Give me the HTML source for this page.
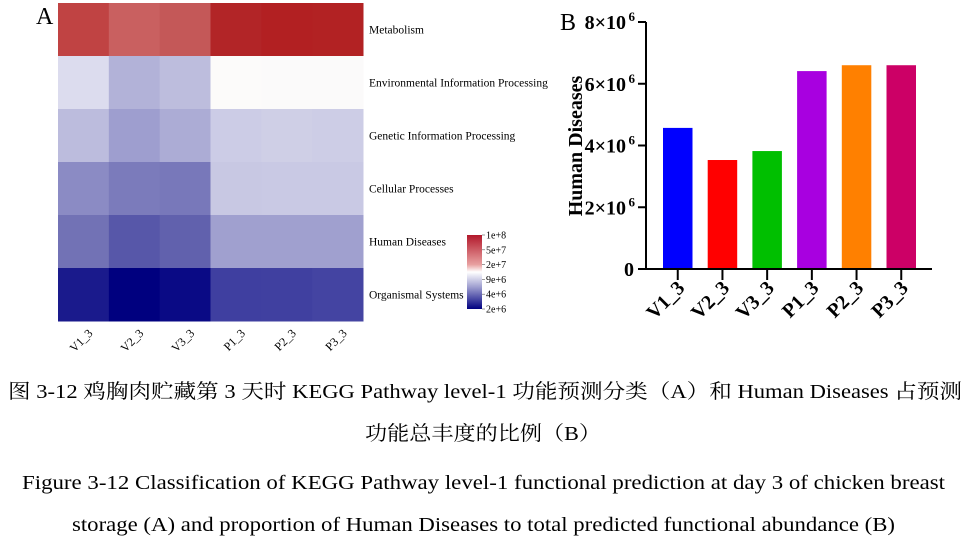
<!DOCTYPE html>
<html><head><meta charset="utf-8">
<style>
html,body{margin:0;padding:0;background:#fff;}
svg{display:block;font-family:"Liberation Serif","Noto Serif CJK SC",serif;}
</style></head>
<body>
<svg id="root" width="970" height="547" viewBox="0 0 970 547" xmlns="http://www.w3.org/2000/svg">
<g id="heat"></g>
<g id="bars"></g>
<g font-size="20" fill="#000" text-anchor="start">
<text x="8" y="398" textLength="954" lengthAdjust="spacingAndGlyphs">图 3-12  鸡胸肉贮藏第 3 天时 KEGG Pathway level-1 功能预测分类（A）和 Human Diseases 占预测</text>
<text x="365" y="440" textLength="236" lengthAdjust="spacingAndGlyphs">功能总丰度的比例（B）</text>
<text x="22" y="489" textLength="923" lengthAdjust="spacingAndGlyphs">Figure 3-12 Classification of KEGG Pathway level-1 functional prediction at day 3 of chicken breast</text>
<text x="72" y="531" textLength="823" lengthAdjust="spacingAndGlyphs">storage (A) and proportion of Human Diseases to total predicted functional abundance (B)</text>
</g>
</svg>
<script>
const NS="http://www.w3.org/2000/svg";
// Heatmap data
const heatCols=["V1_3","V2_3","V3_3","P1_3","P2_3","P3_3"];
const heatRows=["Metabolism","Environmental Information Processing","Genetic Information Processing","Cellular Processes","Human Diseases","Organismal Systems"];
const heatColors=[
["#c04343","#c96060","#c45858","#b22527","#b22022","#b22223"],
["#dcdcee","#b2b2d8","#bdbddd","#fcfbfa","#fbfafa","#fbfafa"],
["#bcbcdd","#9e9ecf","#acacd5","#ccccE6","#cfcfe6","#cdcde6"],
["#8b8bc4","#7b7bbb","#7878ba","#c8c8e3","#c9c9e4","#c9c9e4"],
["#7272b5","#5757a9","#6161ad","#a0a0cf","#a0a0cf","#a0a0cf"],
["#1a1a8c","#00007f","#0a0a85","#3f3fa0","#4040a0","#4444a2"]];
const legendLabels=["1e+8","5e+7","2e+7","9e+6","4e+6","2e+6"];
// Bar data
const barCats=["V1_3","V2_3","V3_3","P1_3","P2_3","P3_3"];
const barVals=[4.57e6,3.53e6,3.82e6,6.41e6,6.6e6,6.6e6];
const barColors=["#0000ff","#ff0000","#00bf00","#a800e0","#ff8000","#cc0066"];
const yTicks=[0,2e6,4e6,6e6,8e6];
const yTickLabels=["0","2×10","4×10","6×10","8×10"];

function el(t,a,p){const e=document.createElementNS(NS,t);for(const k in a)e.setAttribute(k,a[k]);p.appendChild(e);return e;}

// ---- heatmap
const H=document.getElementById('heat');
const hx0=58,hx1=363,hy0=3,hy1=321;
const cw=(hx1-hx0)/heatCols.length, rh=(hy1-hy0)/heatRows.length;
const lA=el('text',{x:36,y:24,'font-size':24},H);lA.textContent="A";


heatRows.forEach((r,i)=>{
  heatCols.forEach((c,j)=>{
    const rc=el('rect',{x:hx0+j*cw,y:hy0+i*rh,width:cw+0.5,height:rh+0.5,fill:heatColors[i][j]},H);
    
    
  });
  const t=el('text',{x:369,y:hy0+i*rh+rh/2+4,'font-size':11.5},H);t.textContent=r;
  
  
});
heatCols.forEach((c,j)=>{
  const cx=hx0+j*cw+cw/2;
  const t=el('text',{x:0,y:0,'font-size':12,'text-anchor':'end',transform:`translate(${cx+10},${334}) rotate(-45)`},H);t.textContent=c;
  
  
});
const defs=el('defs',{},H);
const g=el('linearGradient',{id:'cb',x1:0,y1:0,x2:0,y2:1},defs);
[["0","#b2182b"],["0.4","#e8a0a0"],["0.5","#ffffff"],["0.7","#a0a0d0"],["1","#000080"]].forEach(s=>el('stop',{offset:s[0],'stop-color':s[1]},g));
const cb=el('rect',{x:467,y:235,width:15,height:74,fill:'url(#cb)'},H);


legendLabels.forEach((l,i)=>{
  const y=235+i*74/5;
  el('line',{x1:482,x2:485,y1:y,y2:y,stroke:'#555','stroke-width':0.6},H);
  const t=el('text',{x:486,y:y+3.5,'font-size':10},H);t.textContent=l;
  
  
});

// ---- bar chart
const B=document.getElementById('bars');
const ax=646,ay0=269,ayTop=22,yMax=8e6;
const yS=v=>ay0-(v/yMax)*(ay0-ayTop);
const step=44.7,bw=29.5,bx0=663;
const xS=i=>bx0+i*step;
const lB=el('text',{x:560,y:30,'font-size':24},B);lB.textContent="B";


barVals.forEach((v,i)=>{
  const r=el('rect',{x:xS(i),y:yS(v),width:bw,height:ay0-yS(v),fill:barColors[i]},B);
  
  
  const cx=xS(i)+bw/2;
  el('line',{x1:cx,x2:cx,y1:ay0,y2:280,stroke:'#000','stroke-width':2},B);
  const t=el('text',{x:0,y:0,'font-size':20,'font-weight':'bold','text-anchor':'end',transform:`translate(${cx+8},${289}) rotate(-45)`},B);t.textContent=barCats[i];
  
  
});
el('line',{x1:ax,x2:ax,y1:ayTop,y2:ay0+1,stroke:'#000','stroke-width':2},B);
el('line',{x1:ax-8,x2:932,y1:ay0,y2:ay0,stroke:'#000','stroke-width':2},B);
yTicks.forEach((v,i)=>{
  const y=yS(v);
  el('line',{x1:ax-8,x2:ax,y1:y,y2:y,stroke:'#000','stroke-width':2},B);
  const t=el('text',{x:ax-12-(i?8:0),y:y+7,'font-size':20,'font-weight':'bold','text-anchor':'end'},B);
  t.textContent=yTickLabels[i];
  
  
  if(i){const s=el('text',{x:ax-11,y:y-1,'font-size':13,'font-weight':'bold','text-anchor':'end'},B);s.textContent="6";}
});
const yt=el('text',{x:0,y:0,'font-size':20,'font-weight':'bold','text-anchor':'middle',transform:'translate(582,146) rotate(-90)'},B);
yt.textContent="Human Diseases";


</script>
</body></html>
